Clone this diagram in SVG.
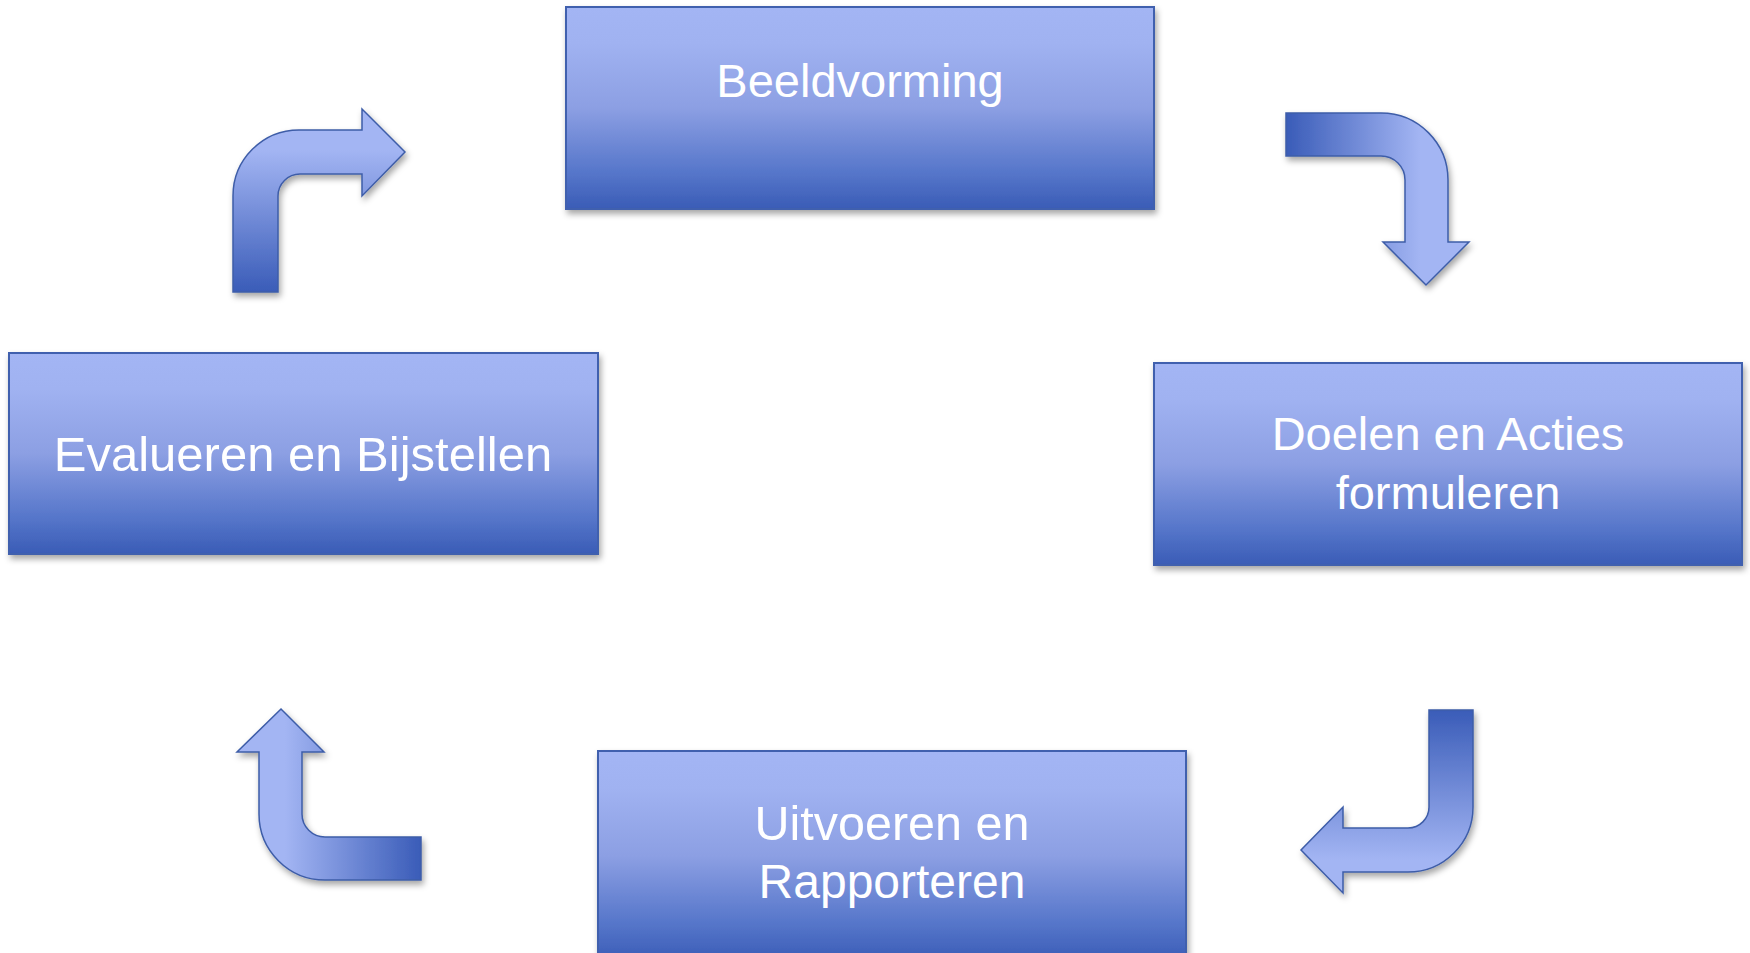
<svg xmlns="http://www.w3.org/2000/svg" width="1750" height="953" viewBox="0 0 1750 953">
<defs>
<linearGradient id="boxGrad" x1="0" y1="0" x2="0" y2="1">
<stop offset="0" stop-color="#A3B5F4"/>
<stop offset="0.18" stop-color="#A0B2F1"/>
<stop offset="0.5" stop-color="#8C9FE3"/>
<stop offset="0.82" stop-color="#5676CA"/>
<stop offset="1" stop-color="#3A5CB6"/>
</linearGradient>
<linearGradient id="gA1" gradientUnits="userSpaceOnUse" x1="0" y1="292" x2="0" y2="150">
<stop offset="0" stop-color="#3A5CB8"/>
<stop offset="1" stop-color="#A3B5F3"/>
</linearGradient>
<linearGradient id="gA2" gradientUnits="userSpaceOnUse" x1="1286" y1="0" x2="1420" y2="0">
<stop offset="0" stop-color="#3A5CB8"/>
<stop offset="1" stop-color="#A3B5F3"/>
</linearGradient>
<linearGradient id="gA3" gradientUnits="userSpaceOnUse" x1="0" y1="710" x2="0" y2="860">
<stop offset="0" stop-color="#3A5CB8"/>
<stop offset="1" stop-color="#A3B5F3"/>
</linearGradient>
<linearGradient id="gA4" gradientUnits="userSpaceOnUse" x1="421" y1="0" x2="285" y2="0">
<stop offset="0" stop-color="#3A5CB8"/>
<stop offset="1" stop-color="#A3B5F3"/>
</linearGradient>
<filter id="shadow" x="-10%" y="-10%" width="120%" height="130%">
<feDropShadow dx="2" dy="4" stdDeviation="3" flood-color="#000" flood-opacity="0.35"/>
</filter>
</defs>
<style>
.box{fill:url(#boxGrad);stroke:#4061AE;stroke-width:2;filter:url(#shadow);}
.lbl{font-family:"Liberation Sans",Arial,sans-serif;font-size:47px;fill:#FFFFFF;text-anchor:middle;}
.arr{stroke:#3E5DA8;stroke-width:1.5;stroke-linejoin:miter;filter:url(#shadow);}
</style>
<rect width="1750" height="953" fill="#FFFFFF"/>
<g id="connectors">
<path id="arrow-eval-beeld" class="arr" fill="url(#gA1)" d="M 233 292 L 233 196 A 66 66 0 0 1 299 130 L 362 130 L 362 109 L 405 152 L 362 196 L 362 174 L 300 174 A 22 22 0 0 0 278 196 L 278 292 Z"/>
<path id="arrow-beeld-doelen" class="arr" fill="url(#gA2)" d="M 1286 113 L 1381 113 A 67 67 0 0 1 1448 180 L 1448 242 L 1469 242 L 1426 285 L 1383 242 L 1405 242 L 1405 180 A 24 24 0 0 0 1381 156 L 1286 156 Z"/>
<path id="arrow-doelen-uitvoeren" class="arr" fill="url(#gA3)" d="M 1429 710 L 1473 710 L 1473 807 A 65 65 0 0 1 1408 872 L 1343 872 L 1343 893 L 1301 850 L 1343 807 L 1343 828 L 1408 828 A 21 21 0 0 0 1429 807 Z"/>
<path id="arrow-uitvoeren-eval" class="arr" fill="url(#gA4)" d="M 421 837 L 421 880 L 325 880 A 66 66 0 0 1 259 814 L 259 752 L 237 752 L 281 709 L 324 752 L 302 752 L 302 814 A 23 23 0 0 0 325 837 Z"/>
</g>
<g id="node-beeldvorming">
<rect class="box" x="566" y="7" width="588" height="202"/>
<text class="lbl" x="860" y="97">Beeldvorming</text>
</g>
<g id="node-doelen">
<rect class="box" x="1154" y="363" width="588" height="202"/>
<text class="lbl" x="1448" y="450">Doelen en Acties</text>
<text class="lbl" x="1448" y="509">formuleren</text>
</g>
<g id="node-uitvoeren">
<rect class="box" x="598" y="751" width="588" height="210"/>
<text class="lbl" x="892" y="840" style="font-size:48.5px">Uitvoeren en</text>
<text class="lbl" x="892" y="898" style="font-size:48px">Rapporteren</text>
</g>
<g id="node-evalueren">
<rect class="box" x="9" y="353" width="589" height="201"/>
<text class="lbl" x="303" y="471" style="font-size:49px">Evalueren en Bijstellen</text>
</g>
</svg>
